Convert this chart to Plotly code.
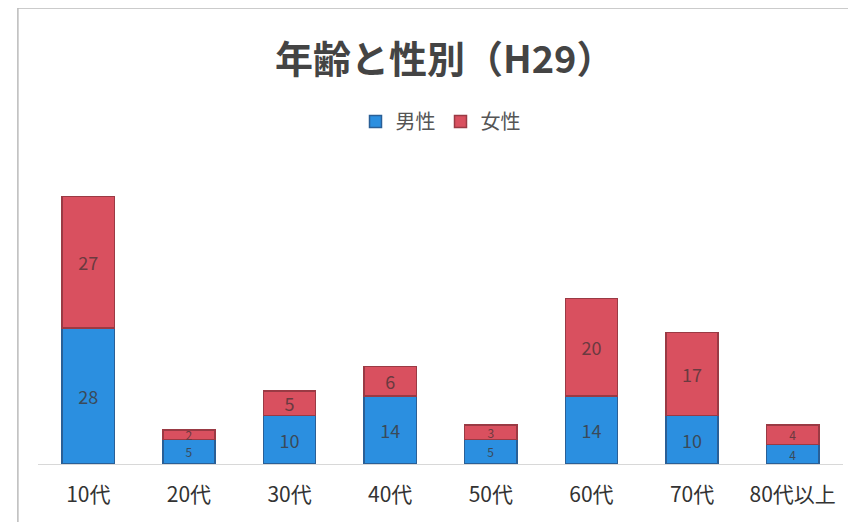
import plotly.graph_objects as go

categories = ["10代", "20代", "30代", "40代", "50代", "60代", "70代", "80代以上"]
male = [28, 5, 10, 14, 5, 14, 10, 4]
female = [27, 2, 5, 6, 3, 20, 17, 4]

font = "Noto Sans CJK JP"

# smaller labels for the short stacks so the two numbers do not collide
totals = [m + f for m, f in zip(male, female)]
label_sizes = [12 if t < 10 else 18 for t in totals]

fig = go.Figure()
fig.add_trace(go.Bar(
    x=categories, y=male, name="男性",
    marker=dict(color="#2b8fe0", line=dict(color="#2a5f96", width=1.5)),
    text=male, textposition="inside", insidetextanchor="middle", textangle=0,
    constraintext="none",
    textfont=dict(family=font, size=label_sizes, color="#3a4a5a"),
))
fig.add_trace(go.Bar(
    x=categories, y=female, name="女性",
    marker=dict(color="#d9505f", line=dict(color="#9a3a44", width=1.5)),
    text=female, textposition="inside", insidetextanchor="middle", textangle=0,
    constraintext="none",
    textfont=dict(family=font, size=label_sizes, color="#6a3a40"),
))

# page body has an 8px default margin; figure sized to fit the 856x522 window
fig.update_layout(
    width=848, height=514,
    barmode="stack", bargap=0.48,
    paper_bgcolor="white", plot_bgcolor="white",
    margin=dict(l=30, r=13, t=152, b=58),
    title=dict(text="<b>年齢と性別（H29）</b>", x=0.515, xanchor="center",
               y=0.9, yanchor="middle",
               font=dict(family=font, size=38, color="#444444")),
    legend=dict(orientation="h", x=0.5, xanchor="center", y=1.127, yanchor="middle",
                font=dict(family=font, size=20, color="#555555"),
                itemwidth=30, traceorder="normal"),
    showlegend=True,
    shapes=[dict(type="rect", xref="paper", yref="paper", x0=-0.025, x1=1.03, y0=-0.21, y1=1.5,
                 line=dict(color="#bbbbbb", width=1.5))],
)
fig.update_xaxes(showline=True, linecolor="#d8d8d8", linewidth=1, ticks="",
                 ticklabelstandoff=12,
                 tickfont=dict(family=font, size=21, color="#333333"))
fig.update_yaxes(range=[0, 62.5], visible=False)

fig.write_html("out.html")
